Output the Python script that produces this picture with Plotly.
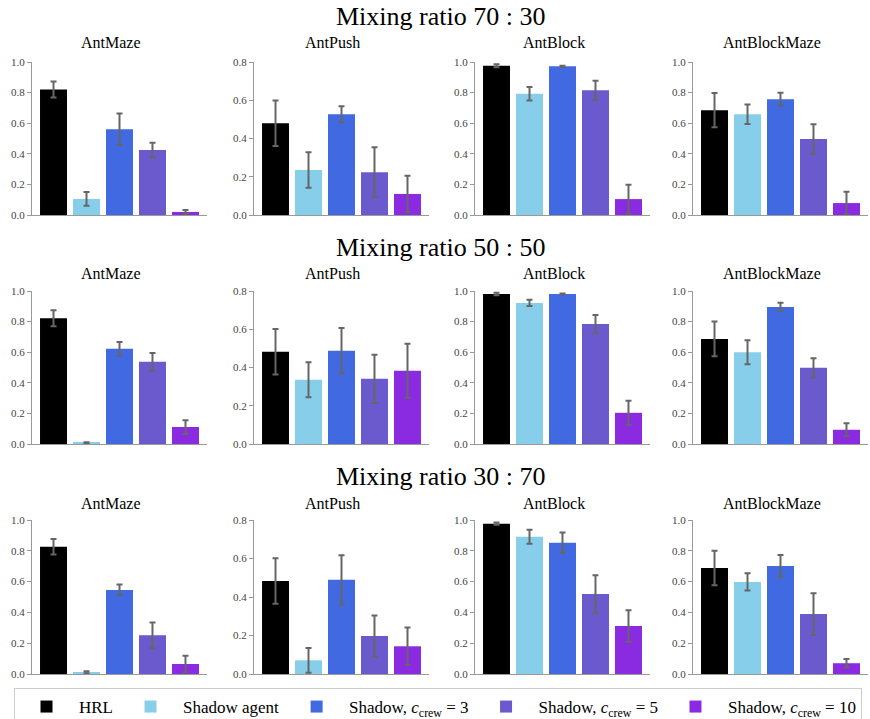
import plotly.graph_objects as go

W, H = 870, 719

series_names = ["HRL", "Shadow agent",
                "Shadow, <i>c</i><sub>crew</sub> = 3",
                "Shadow, <i>c</i><sub>crew</sub> = 5",
                "Shadow, <i>c</i><sub>crew</sub> = 10"]
series_colors = ["#000000", "#87CEEB", "#4169E1", "#6A5ACD", "#8A2BE2"]
envs = ["AntMaze", "AntPush", "AntBlock", "AntBlockMaze"]
ratios = ["Mixing ratio 70 : 30", "Mixing ratio 50 : 50", "Mixing ratio 30 : 70"]
env_ymax = [1.0, 0.8, 1.0, 1.0]

# Mixing ratio 70 : 30
antmaze_7030 = [0.82, 0.105, 0.56, 0.425, 0.02]
antmaze_7030_err = [0.052, 0.045, 0.103, 0.047, 0.013]
antpush_7030 = [0.48, 0.235, 0.527, 0.224, 0.11]
antpush_7030_err = [0.119, 0.093, 0.042, 0.13, 0.095]
antblock_7030 = [0.976, 0.793, 0.972, 0.815, 0.104]
antblock_7030_err = [0.01, 0.044, 0.004, 0.063, 0.094]
antblockmaze_7030 = [0.685, 0.659, 0.757, 0.496, 0.078]
antblockmaze_7030_err = [0.112, 0.064, 0.042, 0.097, 0.074]

# Mixing ratio 50 : 50
antmaze_5050 = [0.822, 0.007, 0.622, 0.537, 0.111]
antmaze_5050_err = [0.052, 0.005, 0.045, 0.058, 0.045]
antpush_5050 = [0.482, 0.336, 0.487, 0.341, 0.383]
antpush_5050_err = [0.119, 0.092, 0.119, 0.126, 0.141]
antblock_5050 = [0.98, 0.922, 0.98, 0.785, 0.204]
antblock_5050_err = [0.008, 0.02, 0.003, 0.058, 0.078]
antblockmaze_5050 = [0.687, 0.6, 0.896, 0.498, 0.093]
antblockmaze_5050_err = [0.114, 0.078, 0.027, 0.063, 0.043]

# Mixing ratio 30 : 70
antmaze_3070 = [0.826, 0.011, 0.546, 0.252, 0.065]
antmaze_3070_err = [0.05, 0.007, 0.035, 0.083, 0.053]
antpush_3070 = [0.483, 0.071, 0.489, 0.197, 0.144]
antpush_3070_err = [0.118, 0.064, 0.128, 0.107, 0.097]
antblock_3070 = [0.976, 0.891, 0.852, 0.52, 0.311]
antblock_3070_err = [0.007, 0.045, 0.067, 0.122, 0.103]
antblockmaze_3070 = [0.689, 0.598, 0.702, 0.389, 0.07]
antblockmaze_3070_err = [0.112, 0.056, 0.07, 0.136, 0.027]

grid_means = [
    [antmaze_7030, antpush_7030, antblock_7030, antblockmaze_7030],
    [antmaze_5050, antpush_5050, antblock_5050, antblockmaze_5050],
    [antmaze_3070, antpush_3070, antblock_3070, antblockmaze_3070],
]
grid_errs = [
    [antmaze_7030_err, antpush_7030_err, antblock_7030_err, antblockmaze_7030_err],
    [antmaze_5050_err, antpush_5050_err, antblock_5050_err, antblockmaze_5050_err],
    [antmaze_3070_err, antpush_3070_err, antblock_3070_err, antblockmaze_3070_err],
]

FONT = "Liberation Serif"
col_px = [(32, 207), (254, 429), (475, 650), (693, 868)]
row_px = [(62, 215), (291, 444), (520, 674)]
title_y_px = [17, 247, 477]
sub_y_px = [43, 273, 503]

fig = go.Figure()
layout = {}
annotations = []
for r in range(3):
    for c in range(4):
        k = r * 4 + c + 1
        xa = "x" if k == 1 else f"x{k}"
        ya = "y" if k == 1 else f"y{k}"
        for s in range(5):
            fig.add_trace(go.Bar(
                x=[s], y=[grid_means[r][c][s]],
                error_y=dict(type="data", array=[grid_errs[r][c][s]],
                             color="#666666", thickness=2, width=3),
                marker=dict(color=series_colors[s], line=dict(width=0)),
                width=0.818, name=series_names[s], legendgroup=str(s),
                showlegend=(k == 1), xaxis=xa, yaxis=ya,
            ))
        x0, x1 = col_px[c]
        y0, y1 = row_px[r]
        layout["xaxis" if k == 1 else f"xaxis{k}"] = dict(
            domain=[x0 / W, x1 / W], range=[-0.652, 4.652],
            showticklabels=False, ticks="", showgrid=False, zeroline=False,
            showline=True, linecolor="#999999", linewidth=1.3,
            anchor=ya, fixedrange=True,
        )
        ymax = env_ymax[c]
        layout["yaxis" if k == 1 else f"yaxis{k}"] = dict(
            domain=[1 - y1 / H, 1 - y0 / H], range=[0, ymax],
            tickvals=[i * 0.2 for i in range(int(round(ymax / 0.2)) + 1)],
            tickformat=".1f", ticks="outside", ticklen=4, tickwidth=1,
            tickcolor="#999999", showgrid=False, zeroline=False,
            showline=True, linecolor="#999999", linewidth=1.3,
            tickfont=dict(family=FONT, size=11, color="#444444"),
            anchor=xa, fixedrange=True,
        )
        annotations.append(dict(
            text=envs[c], xref="paper", yref="paper",
            x=((x0 + x1) / 2 - 9) / W, y=1 - sub_y_px[r] / H,
            xanchor="center", yanchor="middle", showarrow=False,
            font=dict(family=FONT, size=16, color="#000000"),
        ))
    annotations.append(dict(
        text=ratios[r], xref="paper", yref="paper",
        x=440 / W, y=1 - title_y_px[r] / H,
        xanchor="center", yanchor="middle", showarrow=False,
        font=dict(family=FONT, size=26, color="#000000"),
    ))

fig.update_layout(
    **layout,
    annotations=annotations,
    width=W, height=H,
    margin=dict(l=0, r=0, t=0, b=0, autoexpand=False),
    paper_bgcolor="white", plot_bgcolor="white",
    barmode="overlay",
    showlegend=True,
    legend=dict(
        orientation="h", x=438 / W, xanchor="center", y=1 - 688 / H, yanchor="top",
        font=dict(family=FONT, size=17, color="#000000"),
        bordercolor="#cccccc", borderwidth=1, bgcolor="white",
        itemwidth=55, tracegroupgap=0,
    ),
)

fig.write_html("out.html")
